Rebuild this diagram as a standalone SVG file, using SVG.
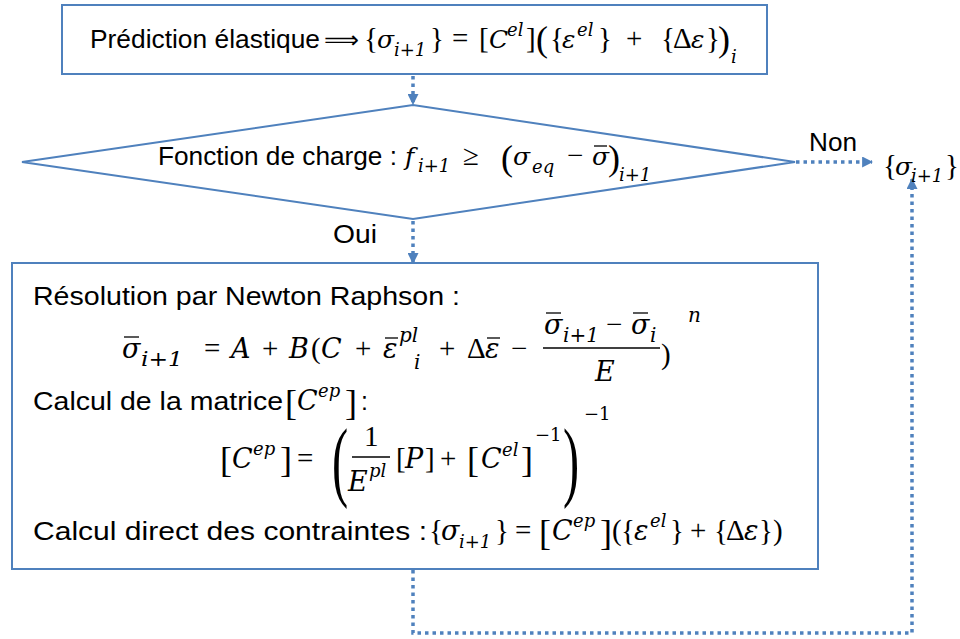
<svg xmlns="http://www.w3.org/2000/svg" width="960" height="639" viewBox="0 0 960 639">
<style>
.box{fill:#fff;stroke:#4F81BD;stroke-width:2}
.con{fill:none;stroke:#4F81BD;stroke-width:3.5;stroke-dasharray:3.5 4}
.t{font-family:"Liberation Sans",Arial,sans-serif;font-size:25px;fill:#000}
.m{font-family:"DejaVu Serif","Liberation Serif",serif;font-style:italic;font-size:25px;fill:#000}
.m2{font-family:"DejaVu Serif","Liberation Serif",serif;font-style:italic;font-size:27px;fill:#000}
.r{font-family:"Liberation Serif","DejaVu Serif",serif;font-size:29px;fill:#000}
.s{font-family:"DejaVu Serif","Liberation Serif",serif;font-style:italic;font-size:18px;fill:#000}
.s2{font-family:"DejaVu Serif","Liberation Serif",serif;font-style:italic;font-size:20px;fill:#000}
.su{font-family:"DejaVu Serif","Liberation Serif",serif;font-size:18px;fill:#000}
.big{font-family:"Liberation Serif","DejaVu Serif",serif;font-size:36px;fill:#000}
.ov{stroke:#000;stroke-width:1.3}
</style>
<defs>
<marker id="ah" viewBox="0 0 10 10" refX="9" refY="5" markerWidth="11" markerHeight="11" markerUnits="userSpaceOnUse" orient="auto">
<path d="M0,0 L10,5 L0,10 z" fill="#4F81BD"/>
</marker>
</defs>

<g id="connectors">
<path class="con" d="M413,76 V104" marker-end="url(#ah)"/>
<path class="con" d="M796,162 H872" marker-end="url(#ah)"/>
<path class="con" d="M413,221 V263" marker-end="url(#ah)"/>
<path class="con" d="M413,570 V633 H912 V179" marker-end="url(#ah)"/>
</g>

<g id="prediction">
<rect class="box" x="62" y="5" width="705" height="69"/>
<text class="t" x="90" y="48" textLength="230" lengthAdjust="spacingAndGlyphs">Prédiction élastique</text>
<text x="324" y="48" font-family="DejaVu Sans,sans-serif" font-size="24" textLength="35" lengthAdjust="spacingAndGlyphs">⟹</text>
<text class="r" x="364" y="48">{</text>
<text class="m" x="377" y="48">σ</text>
<text class="s" x="394" y="56">i+1</text>
<text class="r" x="430" y="48">}</text>
<text class="r" x="452" y="48">=</text>
<text class="r" x="479" y="48">[</text>
<text class="m" x="489" y="48">C</text>
<text class="s" x="507" y="36">el</text>
<text class="r" x="526" y="48">]</text>
<text class="big" x="536" y="51">(</text>
<text class="r" x="550" y="48">{</text>
<text class="m" x="562" y="48">ε</text>
<text class="s" x="577" y="36">el</text>
<text class="r" x="598" y="48">}</text>
<text class="r" x="626" y="48">+</text>
<text class="r" x="661" y="48">{</text>
<text class="r" x="673" y="48">Δ</text>
<text class="m" x="691" y="48">ε</text>
<text class="r" x="706" y="48">}</text>
<text class="big" x="718" y="51">)</text>
<text class="s" x="731" y="63">i</text>
</g>

<g id="fonction-charge">
<polygon class="box" points="22,162 413,105 795,162 413,219"/>
<text class="t" x="158" y="165" textLength="239" lengthAdjust="spacingAndGlyphs">Fonction de charge :</text>
<text class="m" x="405" y="165">f</text>
<text class="s" x="418" y="172">i+1</text>
<text class="r" x="463" y="165">≥</text>
<text class="big" x="501" y="170">(</text>
<text class="m" x="513" y="165">σ</text>
<text class="s" x="532" y="173">eq</text>
<text class="r" x="567" y="165">−</text>
<text class="m" x="592" y="165">σ</text>
<line class="ov" x1="594" y1="146" x2="607" y2="146"/>
<text class="big" x="608" y="170">)</text>
<text class="s" x="619" y="181">i+1</text>
</g>

<g id="label-non">
<text class="t" x="809" y="151" textLength="48" lengthAdjust="spacingAndGlyphs">Non</text>
</g>

<g id="sortie">
<text class="r" x="883" y="175">{</text>
<text class="m" x="895" y="175">σ</text>
<text class="s" x="911" y="182">i+1</text>
<text class="r" x="945" y="175">}</text>
</g>

<g id="label-oui">
<text class="t" x="333" y="243" textLength="44" lengthAdjust="spacingAndGlyphs">Oui</text>
</g>

<g id="newton-raphson">
<rect class="box" x="12" y="263" width="806" height="306"/>
<text class="t" x="33" y="305" textLength="427" lengthAdjust="spacingAndGlyphs" font-size="27">Résolution par Newton Raphson :</text>
<!-- formula line 2 -->
<text class="m2" x="122" y="358">σ</text>
<line class="ov" x1="124" y1="337" x2="139" y2="337"/>
<text class="s2" x="141" y="366" textLength="42" lengthAdjust="spacingAndGlyphs">i+1</text>
<text class="r" x="204" y="358">=</text>
<text class="m2" x="231" y="358">A</text>
<text class="r" x="262" y="358">+</text>
<text class="m2" x="289" y="358">B</text>
<text class="r" x="311" y="358">(</text>
<text class="m2" x="321" y="358">C</text>
<text class="r" x="355" y="358">+</text>
<text class="m2" x="383" y="358">ε</text>
<line class="ov" x1="385" y1="338" x2="398" y2="338"/>
<text class="s2" x="399" y="342">pl</text>
<text class="s2" x="414" y="369">i</text>
<text class="r" x="439" y="358">+</text>
<text class="r" x="467" y="358">Δ</text>
<text class="m2" x="485" y="358">ε</text>
<line class="ov" x1="487" y1="338" x2="500" y2="338"/>
<text class="r" x="511" y="358">−</text>
<text class="m2" x="544" y="334">σ</text>
<line class="ov" x1="546" y1="313" x2="561" y2="313"/>
<text class="s2" x="563" y="342">i+1</text>
<text class="r" x="606" y="334">−</text>
<text class="m2" x="631" y="334">σ</text>
<line class="ov" x1="633" y1="313" x2="648" y2="313"/>
<text class="s2" x="650" y="342">i</text>
<line x1="543" y1="348" x2="660" y2="348" stroke="#000" stroke-width="1.3"/>
<text class="m2" x="595" y="381">E</text>
<text class="r" x="661" y="364">)</text>
<text class="s2" x="688" y="322">n</text>
<!-- line 3 -->
<text class="t" x="33" y="410" textLength="250" lengthAdjust="spacingAndGlyphs" font-size="27">Calcul de la matrice</text>
<text class="big" x="285" y="415">[</text>
<text class="m2" x="297" y="410">C</text>
<text class="s" x="318" y="397">ep</text>
<text class="big" x="345" y="415">]</text>
<text class="t" x="361" y="410" font-size="27">:</text>
<!-- line 4 -->
<text class="big" x="220" y="472">[</text>
<text class="m2" x="232" y="468">C</text>
<text class="s" x="253" y="455">ep</text>
<text class="big" x="280" y="472">]</text>
<text class="r" x="297" y="468">=</text>
<text x="332" y="490" font-family="Liberation Serif,serif" font-size="88" transform="translate(332,0) scale(0.55,1) translate(-332,0)">(</text>
<text class="r" x="364" y="446">1</text>
<line x1="352" y1="457" x2="390" y2="457" stroke="#000" stroke-width="1.3"/>
<text class="m2" x="348" y="491">E</text>
<text class="s" x="369" y="477">pl</text>
<text class="r" x="396" y="468">[</text>
<text class="m2" x="405" y="468">P</text>
<text class="r" x="425" y="468">]</text>
<text class="r" x="440" y="468">+</text>
<text class="big" x="467" y="472">[</text>
<text class="m2" x="481" y="468">C</text>
<text class="s" x="502" y="456">el</text>
<text class="big" x="521" y="472">]</text>
<text class="su" x="535" y="441">−1</text>
<text x="563" y="490" font-family="Liberation Serif,serif" font-size="88" transform="translate(563,0) scale(0.55,1) translate(-563,0)">)</text>
<text class="su" x="584" y="420">−1</text>
<!-- line 5 -->
<text class="t" x="33" y="540" textLength="394" lengthAdjust="spacingAndGlyphs" font-size="27">Calcul direct des contraintes :</text>
<text class="r" x="429" y="540">{</text>
<text class="m2" x="441" y="540">σ</text>
<text class="s" x="459" y="548">i+1</text>
<text class="r" x="495" y="540">}</text>
<text class="r" x="515" y="540">=</text>
<text class="big" x="539" y="545">[</text>
<text class="m2" x="552" y="540">C</text>
<text class="s" x="573" y="527">ep</text>
<text class="big" x="600" y="545">]</text>
<text class="r" x="612" y="540">(</text>
<text class="r" x="621" y="540">{</text>
<text class="m2" x="634" y="540">ε</text>
<text class="s" x="650" y="527">el</text>
<text class="r" x="670" y="540">}</text>
<text class="r" x="690" y="540">+</text>
<text class="r" x="714" y="540">{</text>
<text class="r" x="726" y="540">Δ</text>
<text class="m2" x="744" y="540">ε</text>
<text class="r" x="759" y="540">}</text>
<text class="r" x="773" y="540">)</text>
</g>
</svg>
